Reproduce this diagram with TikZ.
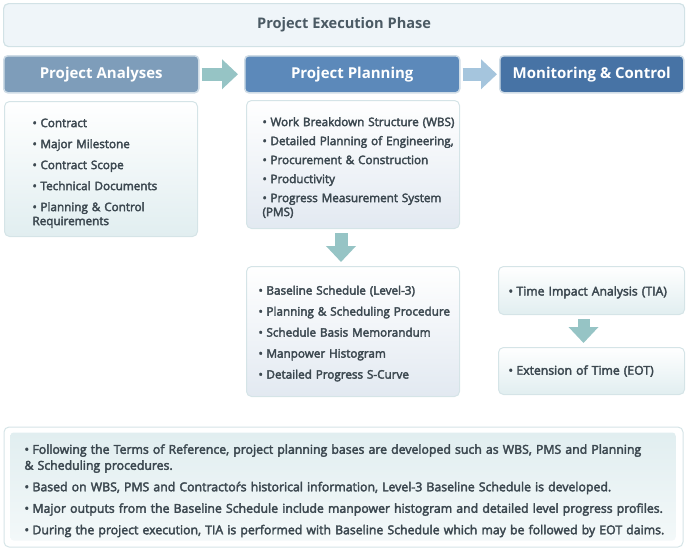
\documentclass[tikz,border=0pt]{standalone}
\usepackage{fontspec}
\setmainfont{Open Sans}
\newfontfamily\semib{Open Sans}[FakeBold=3]
\usetikzlibrary{arrows.meta,positioning}

\definecolor{phasefill}{HTML}{EFF5F9}
\definecolor{phaseline}{HTML}{D2E2E6}
\definecolor{phasetext}{HTML}{4B5A64}
\definecolor{anahead}{HTML}{7E9DBA}
\definecolor{planhead}{HTML}{5C89BA}
\definecolor{monhead}{HTML}{4773A5}
\definecolor{headline}{HTML}{CFDCE6}
\definecolor{listline}{HTML}{D5E4E7}
\definecolor{tealbot}{HTML}{E1EEF0}
\definecolor{bluebot}{HTML}{E2E9F1}
\definecolor{bodytext}{HTML}{3C4850}
\definecolor{arrowteal}{HTML}{96C4C5}
\definecolor{arrowblue}{HTML}{A5C5DD}

% Aufzaehlungspunkt
\newcommand{\bul}{\makebox[8pt][l]{\textbullet}}
\newcommand{\itm}[1]{\hangindent=8pt\hangafter=1\noindent\bul #1\par}
% Abstand oben
\newcommand{\topgap}[1]{\rule{0pt}{#1}}

\tikzset{
  phasebox/.style={draw=phaseline, line width=1.2pt, fill=phasefill,
    rounded corners=5pt, anchor=north west, text=phasetext,
    font=\fontsize{14.6}{18}\selectfont\bfseries},
  headbox/.style={draw=headline, line width=1.5pt, rounded corners=4pt,
    anchor=north west, text=white, minimum height=37pt,
    font=\fontsize{15}{18}\selectfont\bfseries},
  listbox/.style={draw=listline, line width=1pt, rounded corners=5pt,
    anchor=north west, text=bodytext, inner xsep=0pt, inner ysep=0pt,
    align=left, font=\fontsize{11.7}{14}\selectfont\semib,
    top color=white, bottom color=#1},
  flowarrow/.style={line width=13pt, draw=#1,
    -{Triangle[width=29pt,length=16pt]}}
}

\begin{document}
\begin{tikzpicture}[x=1pt, y=-1pt]
  \useasboundingbox (0,0) rectangle (696,550);

  % Phase
  \node[phasebox, minimum width=681pt, minimum height=43pt] (phase)
    at (3,3) {Project Execution Phase};

  % Kopfzeilen
  \node[headbox, fill=anahead, minimum width=195pt] (analyses)
    at (3,55) {Project Analyses};
  \node[headbox, fill=planhead, minimum width=215pt] (planning)
    at (244,55) {Project Planning};
  \node[headbox, fill=monhead, minimum width=184pt] (monitoring)
    at (499,55) {Monitoring \& Control};

  \draw[flowarrow=arrowteal, shorten <=2pt, shorten >=6pt]
    (analyses) -- (planning);
  \draw[flowarrow=arrowblue, shorten <=2pt, shorten >=2pt]
    (planning) -- (monitoring);

  % Listen
  \node[listbox=tealbot, text width=193pt, minimum height=135pt] (analist)
    at (4,101) {\leftskip=28pt \parskip=7pt
      \itm{\topgap{17pt}Contract}
      \itm{Major Milestone}
      \itm{Contract Scope}
      \itm{Technical Documents}
      \itm{Planning \& Control\\Requirements}};

  \node[listbox=bluebot, text width=213pt, minimum height=128pt] (planlist)
    at (246,100) {\leftskip=16pt \parskip=5pt
      \itm{\topgap{15pt}Work Breakdown Structure (WBS)}
      \itm{Detailed Planning of Engineering,}
      \itm{Procurement \& Construction}
      \itm{Productivity}
      \itm{Progress Measurement System\\(PMS)}};

  \node[listbox=bluebot, text width=213pt, minimum height=130pt] (baselist)
    at (246,266) {\leftskip=12pt \parskip=7pt
      \itm{\topgap{13pt}Baseline Schedule (Level-3)}
      \itm{Planning \& Scheduling Procedure}
      \itm{Schedule Basis Memorandum}
      \itm{Manpower Histogram}
      \itm{Detailed Progress S-Curve}};

  \node[listbox=tealbot, text width=186pt, minimum height=48pt,
    font=\fontsize{12.2}{14}\selectfont\semib] (tialist)
    at (498,266) {\leftskip=10pt \itm{\topgap{13pt}Time Impact Analysis (TIA)}};

  \node[listbox=tealbot, text width=186pt, minimum height=47pt,
    font=\fontsize{12.2}{14}\selectfont\semib] (eotlist)
    at (498,347) {\leftskip=10pt \itm{Extension of Time (EOT)}};

  \draw[flowarrow=arrowteal, shorten <=4pt, shorten >=4pt]
    ([xshift=-12pt]planlist.south) -- ([xshift=-12pt]baselist.north);
  \draw[flowarrow=arrowteal, line width=12pt, shorten <=4pt, shorten >=4pt]
    ([xshift=-8pt]tialist.south) -- ([xshift=-8pt]eotlist.north);

  % Anmerkungen
  \node[listbox=white, top color=tealbot, bottom color=white!60!tealbot,
    draw=none, rounded corners=3pt, text width=665pt, minimum height=108pt,
    font=\fontsize{12.3}{16}\selectfont\semib]
    (notes) at (10,432) {\leftskip=14pt \parskip=5.5pt
      \itm{\topgap{18pt}Following the Terms of Reference, project planning bases are
        developed such as WBS, PMS and Planning\\\& Scheduling procedures.}
      \itm{Based on WBS, PMS and Contractoŕs historical information,
        Level-3 Baseline Schedule is developed.}
      \itm{Major outputs from the Baseline Schedule include manpower
        histogram and detailed level progress profiles.}
      \itm{During the project execution, TIA is performed with Baseline
        Schedule which may be followed by EOT daims.}};
  \draw[listline, line width=1pt, rounded corners=5pt]
    ([shift={(-6,-5)}]notes.north west) rectangle ([shift={(7,6)}]notes.south east);
\end{tikzpicture}
\end{document}
